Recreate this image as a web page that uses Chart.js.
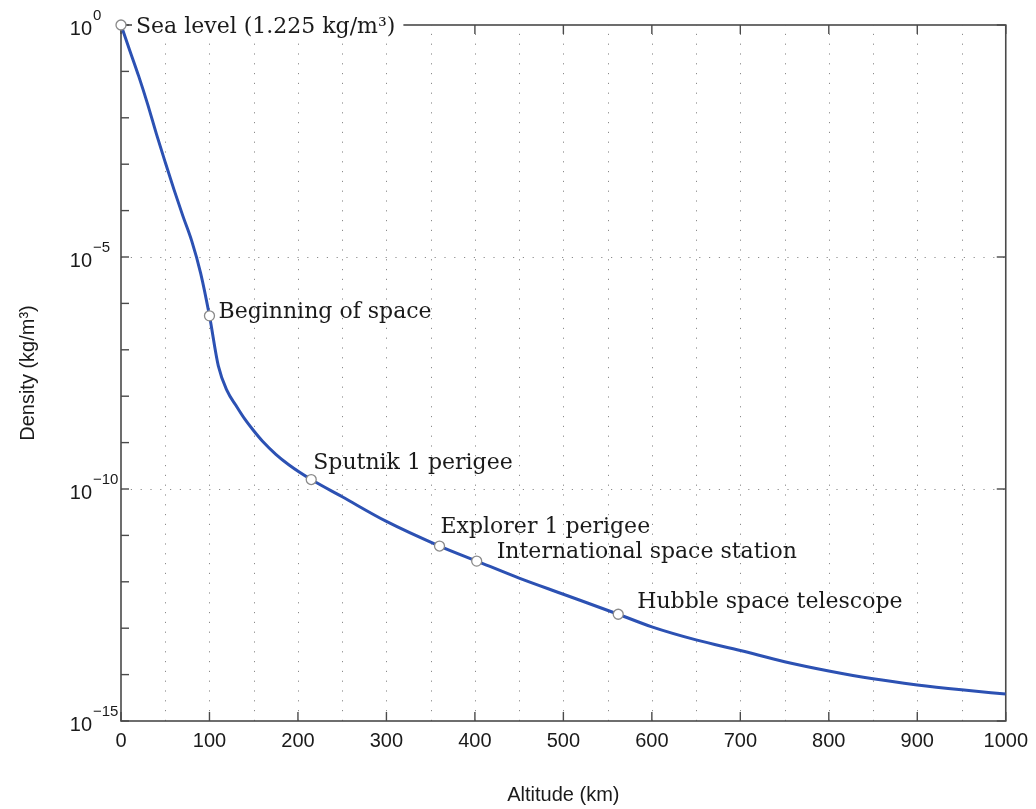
<!DOCTYPE html>
<html lang="en">
<head>
<meta charset="utf-8"/>
<title>Atmospheric density vs altitude</title>
<script src="https://cdn.jsdelivr.net/npm/chart.js@4"></script>
<style>
  body { margin: 0; background: #fff; }
  #wrap { width: 1036px; height: 809px; }
</style>
</head>
<body>
<div id="wrap"><canvas id="densityChart" width="1036" height="809"></canvas></div>
<script>
// curve (km, kg/m3)
const altitudes = [0, 10, 20, 30, 40, 50, 60, 70, 80, 90, 100, 110, 120, 130, 140, 150, 160, 175, 190, 215,
  250, 300, 360, 402, 450, 500, 562, 600, 650, 700, 750, 800, 850, 900, 950, 1000];
const densities = [1, 0.28, 0.079, 0.02, 4.5e-3, 1.1e-3, 2.8e-4, 7.6e-5, 2.2e-5, 4.5e-6, 5.4e-7, 4.5e-8, 1.3e-8,
  6.3e-9, 3.2e-9, 1.8e-9, 1.07e-9, 5.6e-10, 3.3e-10, 1.6e-10, 6.8e-11, 2.0e-11, 5.9e-12, 2.8e-12, 1.2e-12,
  5.4e-13, 2.0e-13, 1.07e-13, 5.6e-14, 3.3e-14, 1.9e-14, 1.2e-14, 8.1e-15, 6.0e-15, 4.7e-15, 3.8e-15];

// marked points
const markAltitudes = [0, 100, 215, 360, 402, 562];
const markDensities = [1, 5.4e-7, 1.6e-10, 5.9e-12, 2.8e-12, 2.0e-13];
const markLabels = ['Sea level (1.225 kg/m³)', 'Beginning of space', 'Sputnik 1 perigee',
  'Explorer 1 perigee', 'International space station', 'Hubble space telescope'];

// axis ticks
const xTickValues = [0, 100, 200, 300, 400, 500, 600, 700, 800, 900, 1000];
const yDecades = [-15, -14, -13, -12, -11, -10, -9, -8, -7, -6, -5, -4, -3, -2, -1, 0];
const yLabelExps = [0, -5, -10, -15];
const yLabelSups = ['0', '−5', '−10', '−15'];

// label offsets from their marker (px)
const labelOffsets = [[15, 2], [9, -4], [2, -16], [1, -19], [20, -9], [19, -12]];

const serif = '"DejaVu Serif", "Liberation Serif", serif';
const sans = '"Liberation Sans", Arial, sans-serif';

const frame = {
  id: 'frame',
  beforeDatasetsDraw(chart) {
    const { ctx, chartArea: a, scales: { x, y } } = chart;
    ctx.save();
    // dotted grid
    ctx.strokeStyle = '#8c8c8c';
    ctx.lineWidth = 1;
    ctx.setLineDash([1.2, 8.6]);
    for (let v = 50; v < 1000; v += 50) {
      const px = Math.round(x.getPixelForValue(v)) + 0.5;
      ctx.beginPath(); ctx.moveTo(px, a.bottom); ctx.lineTo(px, a.top); ctx.stroke();
    }
    [-5, -10].forEach(e => {
      const py = Math.round(y.getPixelForValue(Math.pow(10, e))) + 0.5;
      ctx.beginPath(); ctx.moveTo(a.left, py); ctx.lineTo(a.right, py); ctx.stroke();
    });
    ctx.setLineDash([]);
    // box
    ctx.strokeStyle = '#4a4a4a';
    ctx.lineWidth = 1.6;
    ctx.strokeRect(a.left, a.top, a.right - a.left, a.bottom - a.top);
    // inward tick marks
    ctx.lineWidth = 1.4;
    xTickValues.forEach(v => {
      const px = x.getPixelForValue(v);
      ctx.beginPath(); ctx.moveTo(px, a.bottom); ctx.lineTo(px, a.bottom - 9); ctx.stroke();
      ctx.beginPath(); ctx.moveTo(px, a.top); ctx.lineTo(px, a.top + 9); ctx.stroke();
    });
    yDecades.forEach(e => {
      const py = y.getPixelForValue(Math.pow(10, e));
      ctx.beginPath(); ctx.moveTo(a.left, py); ctx.lineTo(a.left + 8, py); ctx.stroke();
      if (e % 5 === 0) {
        ctx.beginPath(); ctx.moveTo(a.right, py); ctx.lineTo(a.right - 9, py); ctx.stroke();
      }
    });
    // y tick labels: 10 with superscript exponent
    ctx.fillStyle = '#1a1a1a';
    ctx.textBaseline = 'alphabetic';
    yLabelExps.forEach((e, i) => {
      const py = y.getPixelForValue(Math.pow(10, e));
      ctx.font = '20px ' + sans;
      ctx.textAlign = 'right';
      ctx.fillText('10', a.left - 29, py + 10);
      ctx.font = '15px ' + sans;
      ctx.textAlign = 'left';
      ctx.fillText(yLabelSups[i], a.left - 28, py - 5);
    });
    ctx.restore();
  },
  afterDatasetsDraw(chart) {
    const { ctx, scales: { x, y } } = chart;
    ctx.save();
    ctx.font = '22px ' + serif;
    ctx.textBaseline = 'middle';
    markLabels.forEach((t, i) => {
      const px = x.getPixelForValue(markAltitudes[i]) + labelOffsets[i][0];
      const py = y.getPixelForValue(markDensities[i]) + labelOffsets[i][1];
      if (i === 0) {
        const w = ctx.measureText(t).width;
        ctx.fillStyle = '#fff';
        ctx.fillRect(px - 4, py - 13, w + 12, 24);
      }
      ctx.fillStyle = '#1a1a1a';
      ctx.fillText(t, px, py);
    });
    ctx.restore();
  }
};

new Chart(document.getElementById('densityChart'), {
  type: 'line',
  data: {
    datasets: [{
      label: 'marks',
      data: markAltitudes.map((a, i) => ({ x: a, y: markDensities[i] })),
      showLine: false,
      pointRadius: 5,
      pointBackgroundColor: '#fff',
      pointBorderColor: '#8a8a8a',
      pointBorderWidth: 1.3,
      clip: false
    }, {
      label: 'Density',
      data: altitudes.map((a, i) => ({ x: a, y: densities[i] })),
      borderColor: '#2c51b3',
      borderWidth: 3,
      pointRadius: 0,
      cubicInterpolationMode: 'monotone'
    }]
  },
  options: {
    responsive: false,
    animation: false,
    devicePixelRatio: 1,
    layout: { padding: { top: 25, right: 30, left: 0, bottom: 0 } },
    plugins: { legend: { display: false }, tooltip: { enabled: false } },
    scales: {
      x: {
        type: 'linear', min: 0, max: 1000,
        grid: { display: false, drawTicks: false },
        border: { display: false },
        ticks: {
          stepSize: 100, padding: 8, color: '#1a1a1a', maxRotation: 0,
          font: { family: sans, size: 20 },
          callback: v => String(v)
        },
        title: {
          display: true, text: 'Altitude (km)', color: '#1a1a1a',
          font: { family: sans, size: 20 }, padding: { top: 0, bottom: 2 }
        },
        afterFit(s) { s.height = 88; }
      },
      y: {
        type: 'logarithmic', min: 1e-15, max: 1,
        grid: { display: false, drawTicks: false },
        border: { display: false },
        ticks: { display: false },
        title: {
          display: true, text: 'Density (kg/m³)', color: '#1a1a1a',
          font: { family: sans, size: 20 }, padding: { top: 16, bottom: 0 }
        },
        afterFit(s) { s.width = 121; }
      }
    }
  },
  plugins: [frame]
});
</script>
</body>
</html>
